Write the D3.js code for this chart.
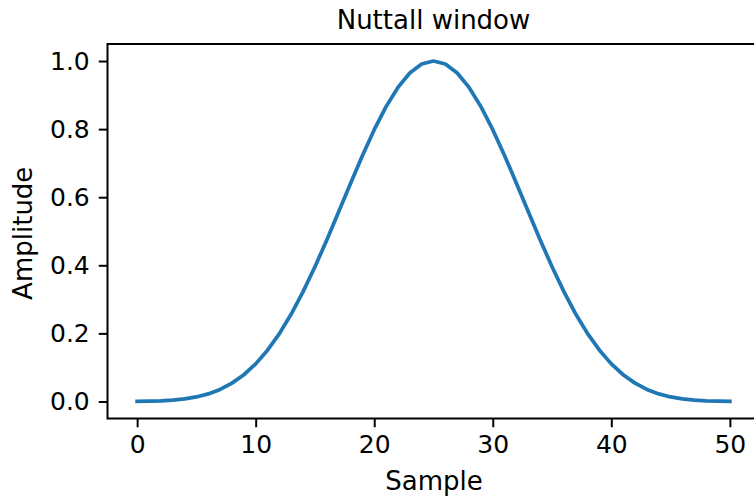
<!DOCTYPE html>
<html>
<head>
<meta charset="UTF-8">
<script src="https://cdnjs.cloudflare.com/ajax/libs/d3/7.8.5/d3.min.js"></script>
<style>
  body { margin: 0; background: #fff; }
  svg text { font-family: "DejaVu Sans", sans-serif; fill: #000; }
  .axis path, .axis line { stroke: #000; }
</style>
</head>
<body>
<div id="chart"></div>
<script>
// Nuttall window, 51 samples
const samples = d3.range(0, 51);
const amplitude = [
  0.0004, 0.0007, 0.0017, 0.0038, 0.0074, 0.0133, 0.0223, 0.0355, 0.0539, 0.0785,
  0.1105, 0.1506, 0.1993, 0.2568, 0.3225, 0.3956, 0.4745, 0.5570, 0.6405, 0.7220,
  0.7983, 0.8661, 0.9225, 0.9649, 0.9911, 1.0000, 0.9911, 0.9649, 0.9225, 0.8661,
  0.7983, 0.7220, 0.6405, 0.5570, 0.4745, 0.3956, 0.3225, 0.2568, 0.1993, 0.1506,
  0.1105, 0.0785, 0.0539, 0.0355, 0.0223, 0.0133, 0.0074, 0.0038, 0.0017, 0.0007,
  0.0004
];
const xTicks = [0, 10, 20, 30, 40, 50];
const yTicks = [0.0, 0.2, 0.4, 0.6, 0.8, 1.0];

const W = 754, H = 503;
const svg = d3.select("#chart").append("svg")
  .attr("width", W).attr("height", H);

const x = d3.scaleLinear().domain([-2.5, 52.5]).range([107.5, 759.5]);
const y = d3.scaleLinear().domain([-0.05, 1.05]).range([418.5, 44]);

// line
const line = d3.line().x((d, i) => x(samples[i])).y(d => y(d));
svg.append("path")
  .datum(amplitude)
  .attr("d", line)
  .attr("fill", "none")
  .attr("stroke", "#1f77b4")
  .attr("stroke-width", 3.75)
  .attr("stroke-linejoin", "round")
  .attr("stroke-linecap", "square");

// axes
const xAxis = svg.append("g")
  .attr("class", "axis")
  .attr("transform", `translate(0,${y.range()[0]})`)
  .call(d3.axisBottom(x).tickValues(xTicks).tickFormat(d3.format("d"))
    .tickSize(8.75).tickPadding(8).tickSizeOuter(0));
xAxis.select(".domain").remove();
xAxis.selectAll("line").attr("stroke-width", 2);
xAxis.selectAll("text").style("font-size", "25px").attr("font-family", null);

const yAxis = svg.append("g")
  .attr("class", "axis")
  .attr("transform", `translate(${x.range()[0]},0)`)
  .call(d3.axisLeft(y).tickValues(yTicks).tickFormat(d3.format(".1f"))
    .tickSize(8.75).tickPadding(9).tickSizeOuter(0));
yAxis.select(".domain").remove();
yAxis.selectAll("line").attr("stroke-width", 2);
yAxis.selectAll("text").style("font-size", "25px").attr("font-family", null);

// frame
svg.append("rect")
  .attr("x", x.range()[0]).attr("y", y.range()[1])
  .attr("width", x.range()[1] - x.range()[0])
  .attr("height", y.range()[0] - y.range()[1])
  .attr("fill", "none").attr("stroke", "#000").attr("stroke-width", 2);

// labels
svg.append("text")
  .attr("x", 433.5).attr("y", 28.5)
  .attr("text-anchor", "middle").style("font-size", "26px")
  .text("Nuttall window");

svg.append("text")
  .attr("x", 434).attr("y", 490)
  .attr("text-anchor", "middle").style("font-size", "26px")
  .text("Sample");

svg.append("text")
  .attr("transform", `translate(32,${(y.range()[0] + y.range()[1]) / 2 + 2}) rotate(-90)`)
  .attr("text-anchor", "middle").style("font-size", "26px")
  .text("Amplitude");
</script>
</body>
</html>
